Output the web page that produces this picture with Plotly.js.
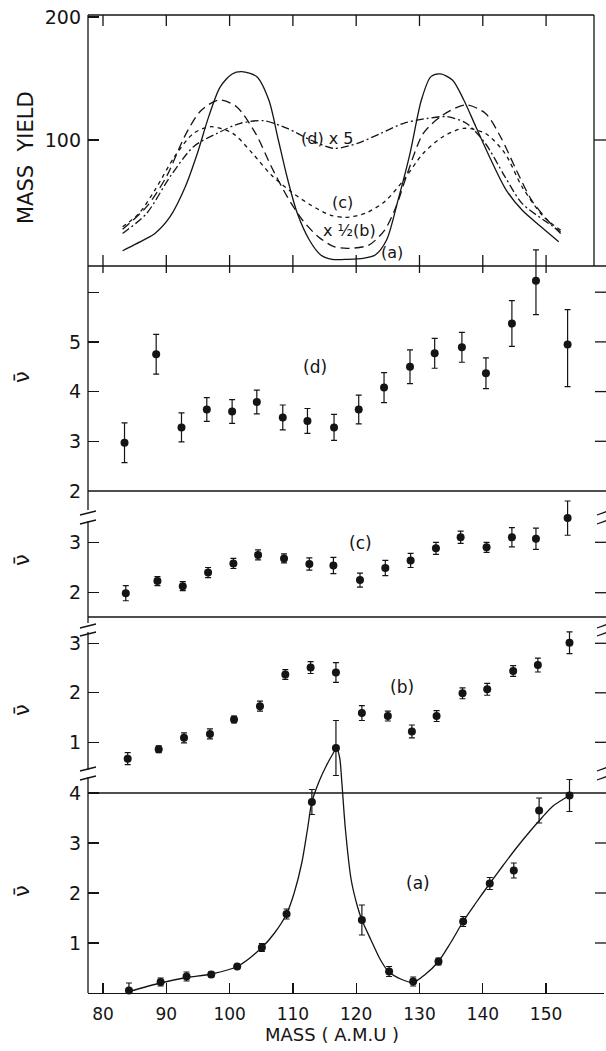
<!DOCTYPE html>
<html><head><meta charset="utf-8">
<script src="https://cdn.plot.ly/plotly-3.0.1.min.js"></script>
<style>html,body{margin:0;padding:0;background:#fff}#chart{width:606px;height:1051px}</style>
</head><body><div id="chart"></div>
<script>
// ---------- data ----------
const xTicks = [80, 90, 100, 110, 120, 130, 140, 150];

// top panel: mass yield curves
const yieldMassA = [83.1, 86.9, 88.2, 90.6, 93.0, 94.9, 96.7, 98.5, 100.4, 101.9, 104.3, 106.2, 107.7, 109.2, 110.7, 112.6, 114.4, 116.2, 118.7, 121.1, 123.0, 124.8, 126.6, 128.5, 130.3, 131.8, 133.3, 135.2, 137.0, 138.9, 141.3, 143.7, 146.2, 149.2, 152.0];
const yieldA     = [10, 20, 24, 37.7, 62, 89, 119, 143, 153.7, 155.6, 151.5, 132.5, 100, 67.5, 40.4, 18.7, 6.5, 3, 3, 3.8, 6.5, 18.7, 51, 89, 132.5, 151.5, 153.7, 148.8, 132.5, 110.8, 83.7, 59.3, 43.1, 29.5, 17.3];

const yieldMassB = [83.1, 86.9, 90.0, 93.1, 95.5, 98.3, 101.1, 104.1, 106.6, 109.1, 111.5, 114.0, 116.5, 118.9, 122.0, 124.5, 126.3, 128.1, 130.6, 133.6, 137.3, 140.4, 142.8, 145.3, 147.7, 150.2, 152.3];
const yieldB     = [27.4, 45.8, 70, 105, 124, 132.5, 127, 105.4, 78.3, 54, 35, 21.4, 13.3, 12, 14.6, 26.8, 45.8, 73, 105.4, 120, 128.5, 121.7, 102.7, 75.6, 51.2, 35, 24];

const yieldMassC = [83.1, 85.7, 88.2, 91.3, 94.3, 97.1, 100.5, 103.6, 106.6, 109.7, 112.8, 115.9, 118.3, 121.4, 124.5, 127.5, 130.6, 133.7, 137.0, 140.4, 143.5, 146.2, 149.6, 152.3];
const yieldC     = [29.5, 40.4, 59.3, 86.4, 105.4, 110.8, 105.4, 89.2, 71.5, 58, 47.2, 39, 37.1, 40.4, 49.9, 67.5, 89.2, 102.7, 109.5, 105.4, 89.2, 62, 37.7, 26.8];

const yieldMassD = [83.1, 86.9, 90.6, 94.3, 98.0, 101.7, 105.4, 109.1, 112.8, 116.5, 120.2, 123.9, 127.5, 131.3, 134.3, 137.4, 140.4, 143.5, 146.2, 149.6, 152.3];
const yieldD     = [24, 40.4, 70.2, 94.6, 105.4, 113.6, 115.7, 109.5, 100, 93.2, 97.3, 105.4, 113.6, 117.6, 119, 113.6, 97.3, 70.2, 48.5, 35, 25.5];

// nu-bar panels
const massD = [83.4, 88.4, 92.4, 96.4, 100.4, 104.3, 108.4, 112.3, 116.5, 120.4, 124.4, 128.5, 132.4, 136.7, 140.5, 144.6, 148.4, 153.4];
const nuD   = [2.97, 4.75, 3.28, 3.64, 3.60, 3.79, 3.48, 3.41, 3.28, 3.64, 4.08, 4.50, 4.77, 4.89, 4.37, 5.37, 6.23, 4.95];
const errDup   = [0.40, 0.40, 0.29, 0.24, 0.24, 0.24, 0.25, 0.25, 0.26, 0.29, 0.30, 0.34, 0.30, 0.30, 0.31, 0.46, 0.62, 0.70];
const errDdown = [0.40, 0.40, 0.29, 0.24, 0.24, 0.24, 0.25, 0.25, 0.26, 0.29, 0.30, 0.34, 0.30, 0.30, 0.31, 0.46, 0.68, 0.85];

const massC = [83.6, 88.6, 92.6, 96.6, 100.6, 104.5, 108.6, 112.6, 116.4, 120.6, 124.6, 128.6, 132.6, 136.5, 140.6, 144.6, 148.4, 153.4];
const nuC   = [1.99, 2.23, 2.13, 2.40, 2.58, 2.75, 2.68, 2.57, 2.54, 2.25, 2.49, 2.64, 2.88, 3.10, 2.90, 3.10, 3.07, 3.48];
const errC  = [0.15, 0.09, 0.09, 0.10, 0.10, 0.10, 0.09, 0.12, 0.16, 0.14, 0.15, 0.14, 0.12, 0.12, 0.10, 0.19, 0.21, 0.34];

const massB = [83.9, 88.8, 92.8, 96.9, 100.7, 104.8, 108.8, 112.8, 116.8, 120.9, 125.0, 128.8, 132.7, 136.8, 140.7, 144.8, 148.7, 153.7];
const nuB   = [0.67, 0.86, 1.09, 1.17, 1.46, 1.73, 2.37, 2.51, 2.41, 1.59, 1.53, 1.22, 1.53, 1.99, 2.07, 2.44, 2.56, 3.01];
const errB  = [0.12, 0.07, 0.10, 0.10, 0.07, 0.10, 0.10, 0.12, 0.20, 0.15, 0.10, 0.13, 0.11, 0.11, 0.12, 0.11, 0.14, 0.22];

const massA = [84.1, 89.1, 93.2, 97.1, 101.2, 105.1, 109.0, 113.0, 116.8, 120.9, 125.2, 129.0, 133.0, 136.9, 141.1, 144.9, 148.9, 153.7];
const nuA   = [0.05, 0.22, 0.33, 0.37, 0.53, 0.91, 1.58, 3.82, 4.90, 1.46, 0.43, 0.23, 0.63, 1.43, 2.19, 2.45, 3.65, 3.95];
const errA  = [0.15, 0.08, 0.09, 0.05, 0.03, 0.08, 0.10, 0.25, 0.55, 0.30, 0.10, 0.09, 0.07, 0.10, 0.12, 0.15, 0.25, 0.32];

// smooth curve drawn through panel (a)
const fitMassA = [84.1, 89.1, 93.2, 97.1, 101.2, 105.1, 107.1, 109.0, 110.2, 111.4, 112.3, 113.0, 114.2, 115.3, 116.3, 116.9, 117.4, 117.7, 118.3, 119.2, 120.2, 120.9, 122.3, 123.8, 125.1, 127.2, 129.0, 130.9, 133.0, 134.9, 136.9, 138.9, 141.1, 143.2, 145.3, 147.5, 149.3, 151.1, 153.7];
const fitNuA   = [0.03, 0.20, 0.31, 0.38, 0.53, 0.91, 1.20, 1.58, 2.00, 2.60, 3.27, 3.82, 4.25, 4.55, 4.78, 4.90, 4.70, 4.27, 3.27, 2.27, 1.73, 1.46, 1.07, 0.67, 0.43, 0.27, 0.21, 0.37, 0.63, 1.00, 1.43, 1.80, 2.19, 2.55, 2.90, 3.24, 3.50, 3.74, 3.95];

// ---------- geometry helpers (pixels -> paper) ----------
const L = 88, R = 604, T = 15, B = 993;
const W = R - L, H = B - T;
const px = v => (v - L) / W;
const py = v => (B - v) / H;

const INK = '#141414';
const FONT = 'DejaVu Sans, Liberation Sans, sans-serif';

function yax(d0, d1, range, tickvals, ticktext) {
  return {
    domain: [py(d0), py(d1)], range: range, anchor: 'x',
    tickvals: tickvals, ticktext: ticktext,
    ticks: 'inside', ticklen: 11, tickwidth: 1.3, tickcolor: INK,
    showline: false, zeroline: false, showgrid: false, fixedrange: true,
    ticklabelstandoff: 6,
    tickfont: { family: FONT, size: 19, color: INK }
  };
}

function pts(x, y, yaxis, up, down) {
  return {
    x: x, y: y, xaxis: 'x', yaxis: yaxis, type: 'scatter', mode: 'markers',
    marker: { color: INK, size: 8, symbol: 'circle' },
    error_y: { type: 'data', array: up, arrayminus: down || up, symmetric: !down,
               visible: true, color: INK, thickness: 1.2, width: 3 },
    cliponaxis: false, hoverinfo: 'skip'
  };
}

function curve(x, y, yaxis, dash) {
  return {
    x: x, y: y, xaxis: 'x', yaxis: yaxis, type: 'scatter', mode: 'lines',
    line: { color: INK, width: 1.3, dash: dash, shape: 'spline', smoothing: 0.8 },
    hoverinfo: 'skip'
  };
}

const traces = [
  curve(yieldMassA, yieldA, 'y5', 'solid'),
  curve(yieldMassB, yieldB, 'y5', '9px,5px'),
  curve(yieldMassC, yieldC, 'y5', '4px,4px'),
  curve(yieldMassD, yieldD, 'y5', '8px,3px,2px,3px'),
  pts(massD, nuD, 'y4', errDup, errDdown),
  pts(massC, nuC, 'y3', errC),
  pts(massB, nuB, 'y2', errB),
  curve(fitMassA, fitNuA, 'y', 'solid'),
  pts(massA, nuA, 'y', errA)
];

// ---------- frame shapes ----------
const shapes = [];
function seg(x0, y0, x1, y1, extra) {
  shapes.push(Object.assign({ type: 'line', xref: 'paper', yref: 'paper',
    x0: x0, y0: y0, x1: x1, y1: y1, line: { color: INK, width: 1.3 } }, extra || {}));
}
const topRight = 594;
seg(px(L), py(T), px(topRight), py(T));
seg(px(topRight), py(T), px(topRight), py(266));
[266, 491, 617, 793].forEach(v => seg(px(L), py(v), px(606), py(v)));
[[T, 510], [521, 623], [632, 770], [777, B]].forEach(s => seg(px(L), py(s[0]), px(L), py(s[1])));
[513, 522, 626, 634, 769, 778].forEach(v => {
  seg(px(80), py(v + 2), px(96), py(v - 2));
  seg(px(597), py(v + 2), px(608), py(v - 2));
});
xTicks.forEach(t => {
  shapes.push({ type: 'line', xref: 'x', yref: 'paper', x0: t, x1: t, y0: py(T), y1: py(T + 11), line: { color: INK, width: 1.3 } });
  shapes.push({ type: 'line', xref: 'x', yref: 'paper', x0: t, x1: t, y0: py(255), y1: py(273), line: { color: INK, width: 1.3 } });
});
function rticks(yref, vals, x0, x1) {
  vals.forEach(v => shapes.push({ type: 'line', xref: 'paper', yref: yref, x0: px(x0), x1: px(x1), y0: v, y1: v, line: { color: INK, width: 1.3 } }));
}
rticks('y5', [100], topRight, 606);
rticks('y4', [3, 4, 5, 6], 595, 606);
rticks('y3', [2, 3], 595, 606);
rticks('y2', [1, 2, 3], 595, 606);
rticks('y', [1, 2, 3], 595, 606);

// ---------- annotations ----------
const ann = [];
function label(text, x, y, size, angle) {
  ann.push({ text: text, xref: 'paper', yref: 'paper', x: px(x), y: py(y),
    xanchor: 'center', yanchor: 'middle', showarrow: false, textangle: angle || 0,
    font: { family: FONT, size: size, color: INK } });
}
const NB = '\u00a0';
label('MASS' + NB + NB + 'YIELD', 26, 158, 21, -90);
const nubar = '\u03bd\u0304';
[377, 560, 710, 891].forEach(v => label(nubar, 22, v, 21, -90));
label('(d)', 315, 367, 17);
label('(c)', 360, 543, 17);
label('(b)', 402, 687, 17);
label('(a)', 418, 883, 17);
label('(d)' + NB + 'x' + NB + '5', 327, 138, 16);
label('(c)', 342, 203, 16);
label('x' + NB + '\u00bd(b)', 349, 230, 16);
label('(a)', 392, 253, 16);
label('MASS' + NB + '(' + NB + 'A.M.U' + NB + ')', 332, 1034, 18);

const layout = {
  width: 606, height: 1051,
  margin: { l: L, r: 606 - R, t: T, b: 1051 - B, pad: 0 },
  paper_bgcolor: '#ffffff', plot_bgcolor: 'rgba(0,0,0,0)',
  showlegend: false, hovermode: false,
  font: { family: FONT, color: INK },
  xaxis: {
    domain: [0, 1], range: [77.63, 159.15], anchor: 'y',
    tickvals: xTicks, ticks: 'inside', ticklen: 10, tickwidth: 1.3, tickcolor: INK,
    showline: true, linecolor: INK, linewidth: 1.3, mirror: false,
    zeroline: false, showgrid: false, fixedrange: true, ticklabelstandoff: 5,
    tickfont: { family: FONT, size: 17, color: INK }
  },
  yaxis:  yax(B, 700, [0, 5.86], [1, 2, 3, 4], ['1', '2', '3', '4']),
  yaxis2: yax(793, 617, [-0.024, 3.531], [1, 2, 3], ['1', '2', '3']),
  yaxis3: yax(617, 491, [1.518, 4.018], [2, 3], ['2', '3']),
  yaxis4: yax(491, 240, [2, 7.05], [2, 3, 4, 5, 6], ['2', '3', '4', '5', '']),
  yaxis5: yax(266, T, [-2.4, 201.6], [100, 200], ['100', '200']),
  shapes: shapes,
  annotations: ann
};

Plotly.newPlot('chart', traces, layout, { staticPlot: true, displayModeBar: false });
</script>
</body></html>
